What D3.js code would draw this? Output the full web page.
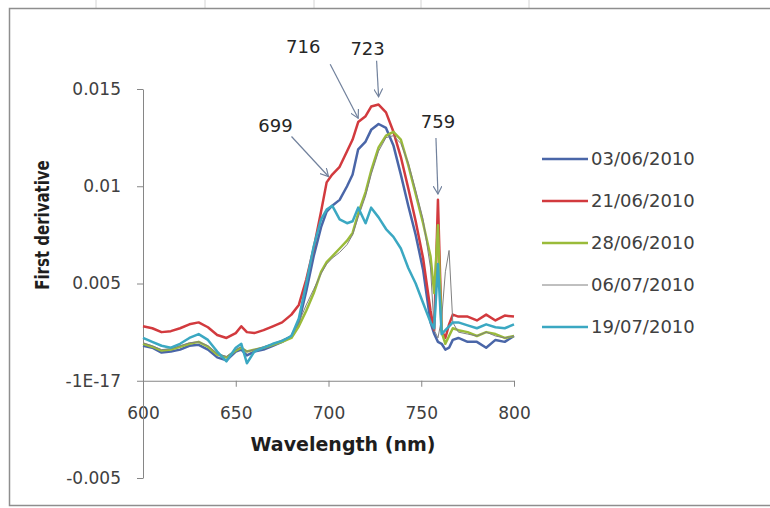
<!DOCTYPE html>
<html>
<head>
<meta charset="utf-8">
<script src="https://cdn.jsdelivr.net/npm/d3@7"></script>
<style>
  body { margin: 0; background: #fff; }
  svg { display: block; font-family: "DejaVu Sans", sans-serif; }
</style>
</head>
<body>
<svg id="chart" width="770" height="508"></svg>
<script>
// wavelength (nm) shared by every series
const wavelengths = [600,605,610,615,620,625,630,635,640,645,650,653,656,660,665,670,675,680,684,688,692,696,699,702,706,710,713,716,720,723,727,731,735,739,743,747,751,755,757,759,761,763,765,767,770,775,780,785,790,795,800];

// first derivative values, in thousandths (x 1e-3)
const d0306 = [1.8,1.7,1.45,1.5,1.6,1.8,1.85,1.6,1.2,1.05,1.5,1.6,1.3,1.5,1.6,1.8,2.0,2.3,3.0,4.6,6.4,7.9,8.7,9.0,9.3,10.0,10.6,11.9,12.3,12.9,13.2,13.0,12.1,10.6,9.0,7.5,5.7,3.0,2.4,2.0,1.9,1.6,1.7,2.1,2.2,2.0,2.0,1.7,2.1,2.0,2.3];
const d2106 = [2.8,2.7,2.5,2.55,2.7,2.9,3.0,2.75,2.35,2.2,2.45,2.8,2.5,2.45,2.6,2.8,3.0,3.4,3.9,5.2,6.8,8.7,10.2,10.6,11.0,11.8,12.4,13.3,13.6,14.1,14.2,13.8,12.8,11.5,9.9,8.2,6.3,3.6,2.6,9.3,2.6,2.2,2.9,3.4,3.3,3.3,3.1,3.4,3.1,3.35,3.3];
const d2806 = [1.9,1.75,1.55,1.6,1.75,1.9,2.0,1.75,1.35,1.2,1.55,1.7,1.5,1.6,1.7,1.85,2.0,2.2,2.8,3.6,4.5,5.6,6.1,6.4,6.8,7.2,7.6,8.6,9.7,10.8,12.0,12.6,12.8,12.4,11.1,9.6,8.1,6.4,4.5,8.0,2.5,1.9,2.3,2.7,2.6,2.5,2.3,2.5,2.4,2.2,2.3];
const d0607 = [1.95,1.8,1.6,1.65,1.8,1.95,2.0,1.8,1.4,1.25,1.6,1.75,1.5,1.6,1.75,1.9,2.1,2.3,3.0,3.9,4.7,5.5,6.0,6.3,6.6,7.0,7.5,8.4,9.5,10.6,11.8,12.5,12.6,12.2,11.2,9.8,8.3,5.8,2.6,2.2,3.2,5.6,6.7,3.0,2.5,2.4,2.3,2.5,2.3,2.2,2.3];
const d1907 = [2.2,2.0,1.8,1.7,1.9,2.2,2.4,2.1,1.5,1.0,1.7,1.9,0.9,1.5,1.7,1.9,2.05,2.3,3.2,5.0,6.9,8.3,8.8,9.0,8.3,8.1,8.2,8.9,8.1,8.9,8.4,7.8,7.4,6.8,5.8,5.0,4.0,3.0,2.7,6.0,2.4,2.6,2.8,3.0,3.0,2.85,2.7,2.9,2.75,2.7,2.9];

const seriesNames = ["03/06/2010", "21/06/2010", "28/06/2010", "06/07/2010", "19/07/2010"];
const seriesValues = [d0306, d2106, d2806, d0607, d1907];
const seriesColors = ["#4a66a8", "#d23a3e", "#9abb3a", "#808080", "#3ba8c2"];
const seriesWidths = [2.5, 2.5, 2.5, 1, 2.5];

const yTicks = [-0.005, 0, 0.005, 0.01, 0.015];
const yTickLabels = ["-0.005", "-1E-17", "0.005", "0.01", "0.015"];
const xTicks = [600, 650, 700, 750, 800];

// annotated peaks: label, wavelength pointed at, value pointed at
const peakLabels = ["699", "716", "723", "759"];
const peakNm = [700, 716, 727, 759];
const peakValue = [0.0105, 0.0135, 0.0146, 0.0096];

const svg = d3.select("#chart");

// outer chart border and the faint sheet grid above it
svg.append("g")
  .selectAll("line")
  .data([96, 205, 314, 421, 529])
  .enter()
  .append("line")
  .attr("x1", (d) => d).attr("x2", (d) => d)
  .attr("y1", 0).attr("y2", 8)
  .attr("stroke", "#d4d4d4");

svg.append("rect")
  .attr("x", 9.5).attr("y", 8.5)
  .attr("width", 762).attr("height", 497)
  .attr("fill", "none")
  .attr("stroke", "#8e8e8e")
  .attr("stroke-width", 1.5);

const x = d3.scaleLinear().domain([600, 800]).range([143, 514]);
const y = d3.scaleLinear().domain([-0.005, 0.015]).range([478, 89]);

// x axis sits on zero
const xAxis = svg.append("g")
  .attr("transform", `translate(0, ${y(0)})`)
  .call(d3.axisBottom(x).tickValues(xTicks).tickSize(6).tickSizeOuter(0));
xAxis.select(".domain").attr("stroke", "#868686");
xAxis.selectAll(".tick line").attr("stroke", "#868686");
xAxis.selectAll("text")
  .attr("y", 26)
  .style("font-family", "DejaVu Sans")
  .style("font-size", "17px")
  .attr("fill", "#404040");

const yAxis = svg.append("g")
  .attr("transform", `translate(${x(600)}, 0)`)
  .call(d3.axisLeft(y).tickValues(yTicks)
    .tickFormat((d, i) => yTickLabels[i])
    .tickSize(6).tickSizeOuter(0).tickPadding(16));
yAxis.select(".domain").attr("stroke", "#868686");
yAxis.selectAll(".tick line").attr("stroke", "#868686");
yAxis.selectAll("text")
  .style("font-family", "DejaVu Sans")
  .style("font-size", "17px")
  .attr("fill", "#404040");

// axis titles
svg.append("text")
  .attr("x", 343)
  .attr("y", 451)
  .attr("text-anchor", "middle")
  .style("font-size", "19px")
  .style("font-weight", "bold")
  .attr("fill", "#1e1e1e")
  .text("Wavelength (nm)");

svg.append("text")
  .attr("transform", "translate(49, 225) rotate(-90) scale(1, 1.3)")
  .attr("text-anchor", "middle")
  .style("font-size", "15px")
  .style("font-weight", "bold")
  .attr("fill", "#1e1e1e")
  .text("First derivative");

// the spectra
const line = d3.line()
  .x((d) => x(d[0]))
  .y((d) => y(d[1] / 1000));

seriesValues.forEach((vals, i) => {
  svg.append("path")
    .datum(wavelengths.map((w, j) => [w, vals[j]]))
    .attr("d", line)
    .attr("fill", "none")
    .attr("stroke", seriesColors[i])
    .attr("stroke-width", seriesWidths[i])
    .attr("stroke-linejoin", "round");
});

// peak annotations with arrows
svg.append("defs").append("marker")
  .attr("id", "head")
  .attr("viewBox", "0 0 10 10")
  .attr("refX", 9).attr("refY", 5)
  .attr("markerWidth", 9).attr("markerHeight", 9)
  .attr("markerUnits", "userSpaceOnUse")
  .attr("orient", "auto")
  .append("path")
  .attr("d", "M0,0 L9,5 L0,10")
  .attr("fill", "none")
  .attr("stroke", "#71819c")
  .attr("stroke-width", 1.3);

const textOffset = [[-53, -45], [-55, -65], [-11, -42], [0, -66]];
const arrowOffset = [[-37, -40], [-28, -54], [-2, -36], [-2, -56]];

peakLabels.forEach((lab, i) => {
  const tx = x(peakNm[i]);
  const ty = y(peakValue[i]);
  svg.append("line")
    .attr("x1", tx + arrowOffset[i][0])
    .attr("y1", ty + arrowOffset[i][1])
    .attr("x2", tx).attr("y2", ty)
    .attr("stroke", "#71819c")
    .attr("stroke-width", 1.2)
    .attr("marker-end", "url(#head)");
  svg.append("text")
    .attr("x", tx + textOffset[i][0])
    .attr("y", ty + textOffset[i][1])
    .attr("text-anchor", "middle")
    .style("font-size", "18px")
    .attr("fill", "#262626")
    .text(lab);
});

// legend
const legend = svg.append("g");
seriesNames.forEach((name, i) => {
  const ly = 159 + i * 42;
  legend.append("line")
    .attr("x1", 542).attr("x2", 588)
    .attr("y1", ly).attr("y2", ly)
    .attr("stroke", seriesColors[i])
    .attr("stroke-width", seriesWidths[i]);
  legend.append("text")
    .attr("x", 591)
    .attr("y", ly)
    .attr("dy", "0.36em")
    .style("font-size", "18px")
    .attr("fill", "#404040")
    .text(name);
});
</script>
</body>
</html>
